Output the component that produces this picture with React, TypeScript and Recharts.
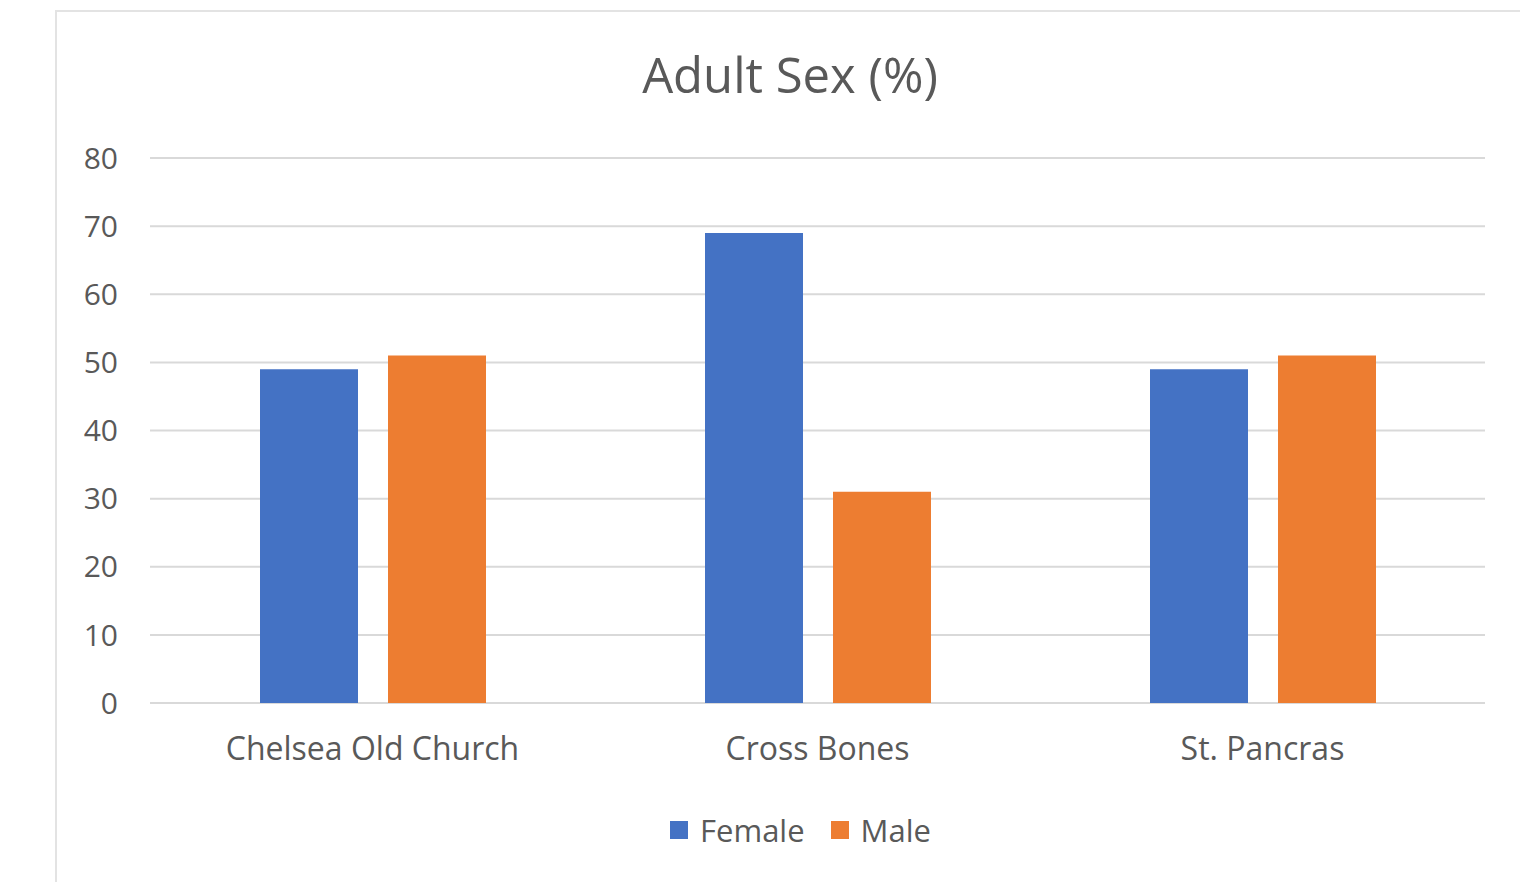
import React from 'react';
import { BarChart, Bar, XAxis, YAxis, CartesianGrid, Legend } from 'recharts';

const categories = ['Chelsea Old Church', 'Cross Bones', 'St. Pancras'];
const femaleValues = [49, 69, 49];
const maleValues = [51, 31, 51];
const yTicks = [0, 10, 20, 30, 40, 50, 60, 70, 80];

const data = categories.map((name, i) => ({
  name,
  Female: femaleValues[i],
  Male: maleValues[i],
}));

const FONT = '"Open Sans", "Liberation Sans", sans-serif';
const TEXT = '#595959';

const renderLegend = (props: any) => {
  const { payload } = props;
  return (
    <div
      style={{
        display: 'flex',
        justifyContent: 'center',
        alignItems: 'center',
        paddingLeft: 116,
        fontFamily: FONT,
        fontSize: 31,
        color: TEXT,
        height: 44,
      }}
    >
      {payload.map((entry: any, i: number) => (
        <div key={i} style={{ display: 'flex', alignItems: 'center', marginRight: i < payload.length - 1 ? 26 : 0 }}>
          <span style={{ display: 'inline-block', width: 18, height: 18, background: entry.color, marginRight: 12 }} />
          <span>{entry.value}</span>
        </div>
      ))}
    </div>
  );
};

const App: React.FC = () => {
  return (
    <div
      style={{
        position: 'absolute',
        left: 0,
        top: 0,
        width: 1520,
        height: 882,
        overflow: 'hidden',
        background: '#fff',
        fontFamily: FONT,
      }}
    >
      <div
        style={{
          position: 'absolute',
          left: 55,
          top: 10,
          width: 1520,
          height: 900,
          border: '2px solid #e3e3e3',
        }}
      />
      <div
        style={{
          position: 'absolute',
          left: 0,
          width: 1580,
          top: 44,
          textAlign: 'center',
          fontSize: 49,
          color: TEXT,
          lineHeight: '60px',
        }}
      >
        Adult Sex (%)
      </div>
      <div style={{ position: 'absolute', left: 0, top: 0 }}>
        <BarChart
          width={1520}
          height={882}
          data={data}
          margin={{ top: 158, right: 35, left: 0, bottom: 30 }}
          barSize={98}
          barGap={30}
        >
          <CartesianGrid vertical={false} stroke="#d9d9d9" strokeWidth={2} />
          <XAxis
            dataKey="name"
            axisLine={false}
            tickLine={false}
            height={105}
            tickMargin={28}
            tick={{ fill: TEXT, fontSize: 32, fontFamily: FONT }}
          />
          <YAxis
            width={150}
            domain={[0, 80]}
            ticks={yTicks}
            axisLine={false}
            tickLine={false}
            tickMargin={26}
            tick={{ fill: TEXT, fontSize: 30, fontFamily: FONT }}
          />
          <Legend verticalAlign="bottom" content={renderLegend} />
          <Bar dataKey="Female" fill="#4472C4" isAnimationActive={false} />
          <Bar dataKey="Male" fill="#ED7D31" isAnimationActive={false} />
        </BarChart>
      </div>
    </div>
  );
};

export default App;
